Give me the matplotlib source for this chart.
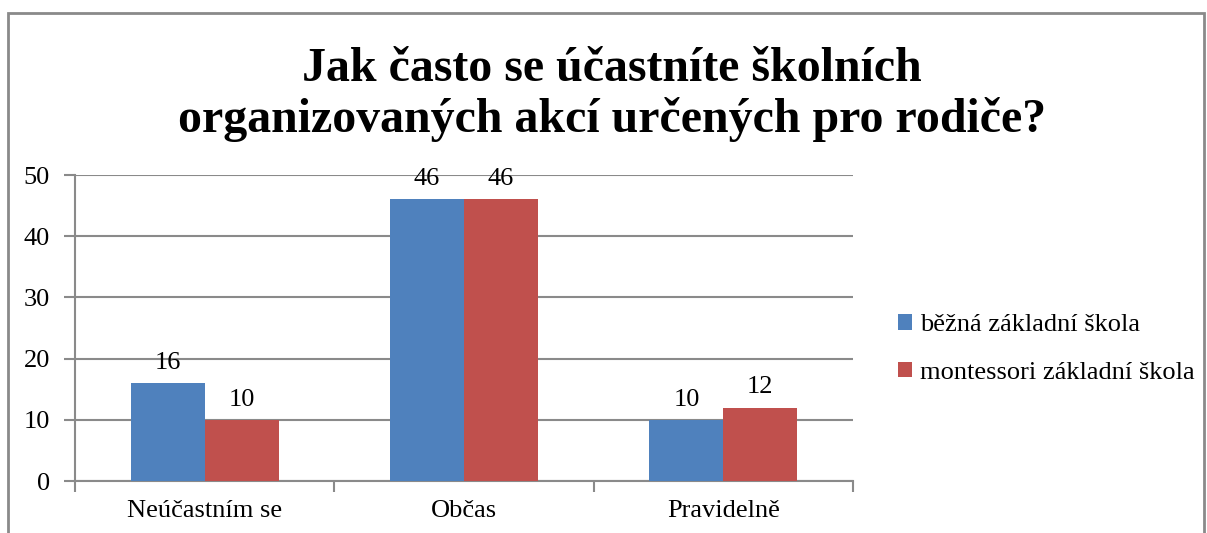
import matplotlib.pyplot as plt
import numpy as np
from matplotlib.patches import Rectangle

# data
kategorie = ['Neúčastním se', 'Občas', 'Pravidelně']
bezna = [16, 46, 10]
montessori = [10, 46, 12]
serie = ['běžná základní škola', 'montessori základní škola']
barvy = ['#4F81BD', '#C0504D']

plt.rcParams['font.family'] = ['Liberation Serif', 'DejaVu Serif']

fig = plt.figure(figsize=(12.07, 5.33), dpi=100)
# ramecek okolo grafu
fig.patches.append(Rectangle((8/1207, -0.05), 1196/1207, 1.05 - 13/533,
                             transform=fig.transFigure, fill=False,
                             edgecolor='#8a8a8a', linewidth=2))

ax = fig.add_axes([75/1207, 1 - 481/533, 778/1207, 306/533])
x = np.arange(len(kategorie))
w = 0.285
b1 = ax.bar(x - w/2, bezna, w, color=barvy[0], label=serie[0], zorder=3)
b2 = ax.bar(x + w/2, montessori, w, color=barvy[1], label=serie[1], zorder=3)
for bars in (b1, b2):
    for r in bars:
        ax.text(r.get_x() + r.get_width()/2, r.get_height() + 1.5,
                str(int(r.get_height())), ha='center', va='bottom', fontsize=19)

ax.set_xlim(-0.5, 2.5)
ax.set_ylim(0, 50)
ax.set_yticks(range(0, 51, 10))
ax.yaxis.grid(True, color='#8a8a8a', linewidth=1.5, zorder=0)
ax.set_xticks([-0.5, 0.5, 1.5, 2.5])
ax.set_xticklabels([])
ax.set_xticks(x, minor=True)
ax.set_xticklabels(kategorie, minor=True)
ax.tick_params(axis='x', which='minor', length=0, labelsize=19, pad=14)
ax.tick_params(axis='x', which='major', length=8, width=1.5, color='#8a8a8a')
ax.tick_params(axis='y', length=8, width=1.5, color='#8a8a8a', labelsize=19, pad=10)
for s in ['top', 'right']:
    ax.spines[s].set_visible(False)
for s in ['left', 'bottom']:
    ax.spines[s].set_color('#8a8a8a')
    ax.spines[s].set_linewidth(1.5)

fig.text(0.507, 0.912, 'Jak často se účastníte školních\norganizovaných akcí určených pro rodiče?',
         ha='center', va='top', fontsize=34.5, fontweight='bold', linespacing=1.17)

fig.legend(loc='center left', bbox_to_anchor=(874/1207, 1 - 349/533), frameon=False,
           fontsize=19, handlelength=0.55, handleheight=0.55, handletextpad=0.3,
           labelspacing=0.95)

fig.savefig('out.png', dpi=100)
